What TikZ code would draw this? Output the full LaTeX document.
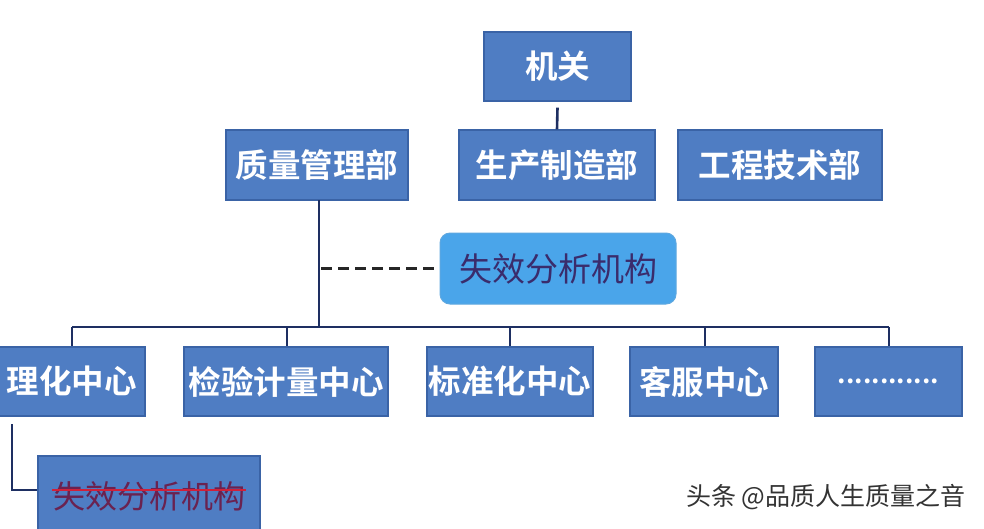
\documentclass[tikz,border=0pt]{standalone}
\usepackage{fontspec}
\setmainfont{Noto Sans CJK SC}
\newfontfamily\cjkbold{Noto Sans CJK SC Bold}
\definecolor{boxfill}{HTML}{4F7DC3}
\definecolor{boxline}{HTML}{3A63A6}
\definecolor{lightfill}{HTML}{4AA5EA}
\definecolor{lightline}{HTML}{5FA8E0}
\definecolor{conn}{HTML}{1E2F62}
\definecolor{navytext}{HTML}{3A2C6C}
\definecolor{maroontext}{HTML}{6A2250}
\definecolor{strikered}{HTML}{D0203A}
\definecolor{marktext}{HTML}{333333}
\begin{document}
\begin{tikzpicture}[x=1pt,y=-1pt,
  box/.style={draw=boxline, line width=1.2pt, fill=boxfill, inner sep=0pt,
    text=white, font=\cjkbold\fontsize{32.5}{36}\selectfont},
  lightbox/.style={draw=lightline, line width=1pt, fill=lightfill, rounded corners=10pt,
    inner sep=0pt, text=navytext, font=\fontsize{33}{36}\selectfont},
  link/.style={draw=conn, line width=2.6pt},
  dashlink/.style={draw=black!85, line width=3pt, dash pattern=on 11pt off 6pt}]
\useasboundingbox (0,0) rectangle (984,528);
\fill[white] (0,0) rectangle (984,528);
\begin{scope}
\clip (0,0) rectangle (984,528);
% top
\node[box, minimum width=147pt, minimum height=69pt] (jg) at (557.5,66.5) {机关};
\node[box, minimum width=182pt, minimum height=70pt] (zl) at (317,165) {质量管理部};
\node[box, minimum width=196pt, minimum height=70pt] (sc) at (557,165) {生产制造部};
\node[box, minimum width=204pt, minimum height=70pt] (gc) at (780,165) {工程技术部};
\node[lightbox, minimum width=236pt, minimum height=71pt] (fa) at (558,268.5) {失效分析机构};
% bottom row
\node[box, minimum width=147pt, minimum height=69pt] (lh) at (71.5,381.5) {理化中心};
\node[box, minimum width=204pt, minimum height=69pt] (jy) at (286,381.5) {检验计量中心};
\node[box, minimum width=166pt, minimum height=69pt] (bz) at (510,381.5) {标准化中心};
\node[box, minimum width=148pt, minimum height=69pt] (kf) at (704,381.5) {客服中心};
\node[box, minimum width=147pt, minimum height=69pt, font=\cjkbold\fontsize{26}{30}\selectfont] (dd) at (888.5,381.5) {\raisebox{-2pt}{............}};
\node[box, minimum width=222pt, minimum height=80pt, text=maroontext,
  font=\fontsize{32}{36}\selectfont] (fa2) at (149,496) {失效分析机构};
\draw[strikered, line width=1.6pt] (52,490) -- (246,490);
% connectors
\draw[link] (jg.south) ++(0,6) -- (sc.north);
\coordinate (tb) at (319,327);
\draw[link] (319,200) -- (tb);
\coordinate (bl) at (72,327);
\coordinate (br) at (889,327);
\draw[link] (bl) -- (br);
\draw[link] (bl) -- (lh.north -| bl);
\draw[link] (287,327) -- (jy.north -| 287,0);
\draw[link] (510,327) -- (bz.north);
\draw[link] (705,327) -- (kf.north -| 705,0);
\draw[link] (br) -- (dd.north -| br);
\coordinate (dstart) at (321,268);
\draw[dashlink] (dstart) -- (fa.west |- dstart);
\coordinate (lc) at (12,490);
\draw[link] (12,424) -- (lc) -- (fa2.west |- lc);
\end{scope}
% watermark
\node[anchor=west, inner sep=0pt, text=marktext, font=\fontsize{25}{28}\selectfont] (wm) at (686,497) {头条 @品质人生质量之音};
\end{tikzpicture}
\end{document}
